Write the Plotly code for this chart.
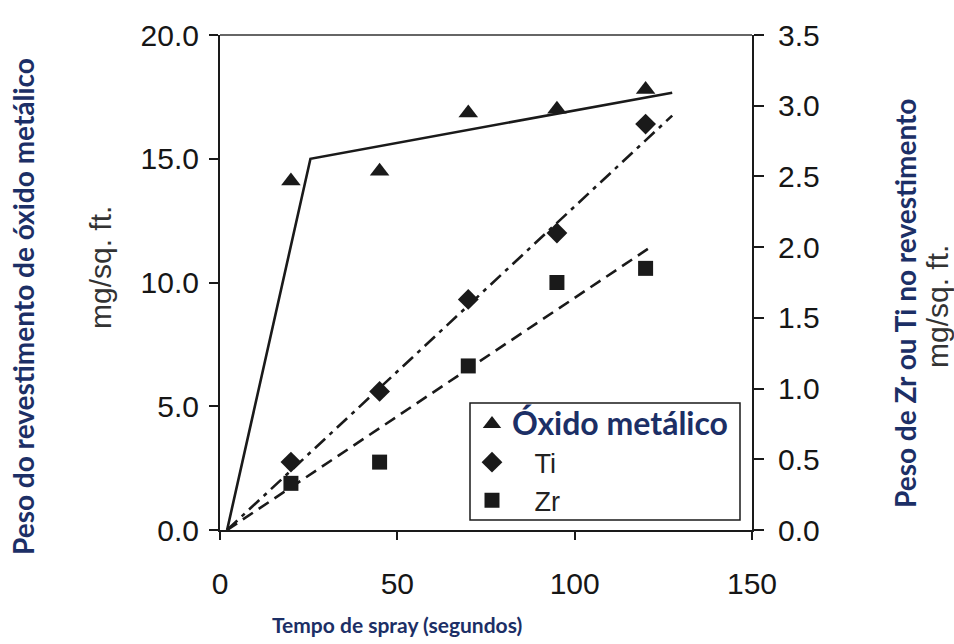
import plotly.graph_objects as go

# ---- data ----
time_s = [20, 45, 70, 95, 120]
oxide_weight = [14.1, 14.5, 16.85, 17.0, 17.8]      # left axis, mg/sq. ft.
ti_weight = [0.48, 0.98, 1.63, 2.10, 2.87]          # right axis, mg/sq. ft.
zr_weight = [0.33, 0.48, 1.16, 1.75, 1.85]          # right axis, mg/sq. ft.

oxide_fit_x = [2, 25.5, 127.5]
oxide_fit_y = [0, 15.0, 17.67]
ti_fit_x = [2, 127.5]
ti_fit_y = [0, 2.93]
zr_fit_x = [2, 122]
zr_fit_y = [0, 2.01]

x_ticks = [0, 50, 100, 150]
left_ticks = [0, 5, 10, 15, 20]
right_ticks = [0, 0.5, 1.0, 1.5, 2.0, 2.5, 3.0, 3.5]

NAVY = "#1c2f66"
INK = "#1a1a1a"
NUM_FONT = dict(family="Liberation Sans, Arial", size=30, color="#161616")

fig = go.Figure()

# fitted lines
fig.add_trace(go.Scatter(x=oxide_fit_x, y=oxide_fit_y, mode="lines",
                         line=dict(color=INK, width=2.6), showlegend=False, yaxis="y"))
fig.add_trace(go.Scatter(x=ti_fit_x, y=ti_fit_y, mode="lines",
                         line=dict(color=INK, width=2.6, dash="14px,6px,4px,6px"),
                         showlegend=False, yaxis="y2"))
fig.add_trace(go.Scatter(x=zr_fit_x, y=zr_fit_y, mode="lines",
                         line=dict(color=INK, width=2.6, dash="12px,7px"),
                         showlegend=False, yaxis="y2"))

# markers
fig.add_trace(go.Scatter(x=time_s, y=oxide_weight, mode="markers",
                         name="<span style='font-family:Lato;font-weight:bold;font-size:32px;color:%s'>Óxido metálico</span>" % NAVY,
                         marker=dict(symbol="triangle-up", size=17, color=INK), yaxis="y"))
fig.add_trace(go.Scatter(x=time_s, y=ti_weight, mode="markers",
                         name="&nbsp;&nbsp;&nbsp;Ti",
                         marker=dict(symbol="diamond", size=16, color=INK), yaxis="y2"))
fig.add_trace(go.Scatter(x=time_s, y=zr_weight, mode="markers",
                         name="&nbsp;&nbsp;&nbsp;Zr",
                         marker=dict(symbol="square", size=15, color=INK), yaxis="y2"))

L, R, T, B = 220, 202, 35, 114
W, H = 954, 644
pw, ph = W - L - R, H - T - B

def px(xpix):
    return (xpix - L) / pw

def py(ypix):
    return (H - B - ypix) / ph

fig.update_layout(
    width=W, height=H,
    margin=dict(l=L, r=R, t=T, b=B, autoexpand=False),
    paper_bgcolor="white", plot_bgcolor="white",
    showlegend=True,
    legend=dict(x=px(472), y=py(400), xanchor="left", yanchor="top",
                bgcolor="rgba(0,0,0,0)", borderwidth=0,
                font=dict(family="Liberation Sans, Arial", size=27, color="#222"),
                tracegroupgap=0, itemwidth=30),
    xaxis=dict(range=[0, 150], tickvals=x_ticks, showgrid=False, zeroline=False,
               showline=True, linecolor=INK, linewidth=2,
               ticks="outside", ticklen=8, tickwidth=1.5, tickcolor=INK,
               tickfont=NUM_FONT, ticklabelstandoff=18),
    yaxis=dict(range=[0, 20], tickvals=left_ticks, tickformat=".1f", showgrid=False,
               zeroline=False, showline=True, linecolor=INK, linewidth=2,
               ticks="outside", ticklen=9, tickwidth=1.5, tickcolor=INK,
               tickfont=NUM_FONT, ticklabelstandoff=4),
    yaxis2=dict(range=[0, 3.5], tickvals=right_ticks, tickformat=".1f", overlaying="y",
                side="right", showgrid=False, zeroline=False, showline=True,
                linecolor=INK, linewidth=2, ticks="outside", ticklen=10, tickwidth=1.5,
                tickcolor=INK, tickfont=NUM_FONT, ticklabelstandoff=8),
    yaxis3=dict(range=[0, 3.5], tickvals=right_ticks, overlaying="y", side="right",
                anchor="x", showgrid=False, zeroline=False, showline=False,
                ticks="inside", ticklen=10, tickwidth=1.5, tickcolor=INK,
                showticklabels=False),
)

# top border
fig.add_shape(type="line", xref="paper", yref="paper", x0=0, x1=1, y0=1, y1=1,
              line=dict(color="#666", width=2))
# legend box
fig.add_shape(type="rect", xref="paper", yref="paper",
              x0=px(470), x1=px(740), y0=py(520), y1=py(403),
              line=dict(color=INK, width=1.5), layer="below")

rot_title_font = dict(family="Lato", size=28, color=NAVY, weight="bold")
x_title_font = dict(family="Lato", size=21, color=NAVY, weight="bold")
unit_font = dict(family="Liberation Sans, Arial", size=30, color="#333")

def ann(text, xpix, ypix, font, angle=0):
    fig.add_annotation(text=text, xref="paper", yref="paper", x=px(xpix), y=py(ypix),
                       xanchor="center", yanchor="middle", textangle=angle,
                       showarrow=False, font=font)

ann("Peso do revestimento de óxido metálico", 23, 307, rot_title_font, -90)
ann("mg/sq. ft.", 100, 268, unit_font, -90)
ann("Peso de Zr ou Ti no revestimento", 905, 304, rot_title_font, -90)
ann("mg/sq. ft.", 937, 307, unit_font, -90)
ann("Tempo de spray (segundos)", 397, 624, x_title_font)

fig.write_html("out.html")
